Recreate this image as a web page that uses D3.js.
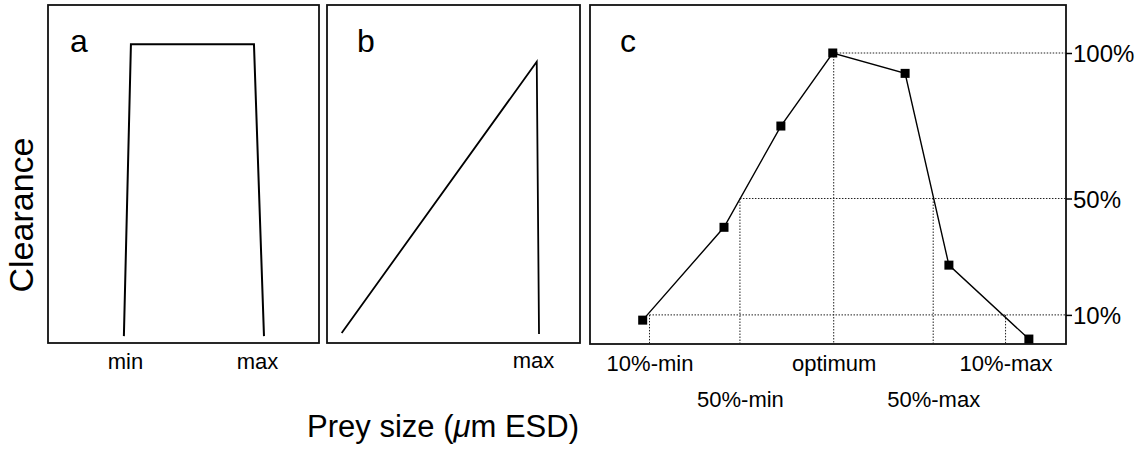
<!DOCTYPE html>
<html>
<head>
<meta charset="utf-8">
<script src="https://cdn.jsdelivr.net/npm/d3@7"></script>
<style>
  html, body { margin: 0; padding: 0; background: #fff; }
  svg { display: block; }
  text { font-family: "Liberation Sans", Arial, Helvetica, sans-serif; fill: #000; }
</style>
</head>
<body>
<svg id="chart" width="1143" height="450"></svg>
<script>
// ---------- data ----------
// panel a (window: min..max)
const aTickX = [28.4, 77.1];
const aTickLabels = ["min", "max"];
const aLineX = [28.0, 30.6, 76.0, 79.7];
const aLineY = [2.7, 103, 103, 2.7];

// panel b (linear up to max)
const bTickX = [81.4];
const bTickLabels = ["max"];
const bLineX = [5.8, 82.9, 83.8];
const bLineY = [3.8, 97, 3.4];

// panel c (measured curve)
const cPointX = [11.07, 28.15, 40.1, 51.0, 66.2, 75.4, 92.2];
const cPointY = [8.2, 40.1, 74.9, 100, 93, 27.1, 1.7];
const cTickLabels = ["10%-min", "50%-min", "optimum", "50%-max", "10%-max"];
const cTickX = [12.5, 31.5, 51.2, 72.1, 87.3];
const cTickLevel = [10, 50, 100, 50, 10];
const yTickValues = [10, 50, 100];

// ---------- layout ----------
const svg = d3.select("#chart");
const yScale = d3.scaleLinear().domain([0, 100]).range([344, 53]);
const boxTop = 5;

const panels = [
  { x0: 48, x1: 319, bottom: 343, letter: "a", lx: 70 },
  { x0: 327, x1: 580, bottom: 343, letter: "b", lx: 357 },
  { x0: 590, x1: 1066, bottom: 344, letter: "c", lx: 620 }
];
panels.forEach(p => { p.x = d3.scaleLinear().domain([0, 100]).range([p.x0, p.x1]); });

const line = (xs, ys, xsc) => d3.line()(xs.map((v, i) => [xsc(v), yScale(ys[i])]));

// frames and letters
panels.forEach(p => {
  svg.append("rect")
    .attr("x", p.x0).attr("y", boxTop)
    .attr("width", p.x1 - p.x0).attr("height", p.bottom - boxTop)
    .attr("fill", "none").attr("stroke", "#111").attr("stroke-width", 1.8);
  svg.append("text").attr("x", p.lx).attr("y", 52)
    .attr("font-size", 32).text(p.letter);
});

// ---------- panel a ----------
const pa = panels[0];
svg.append("path").attr("d", line(aLineX, aLineY, pa.x))
  .attr("fill", "none").attr("stroke", "#000").attr("stroke-width", 2);
const axA = svg.append("g").attr("transform", `translate(0,${pa.bottom})`)
  .call(d3.axisBottom(pa.x).tickValues(aTickX).tickSize(0)
    .tickFormat((d, i) => aTickLabels[i]));
axA.select(".domain").remove();
axA.selectAll("text").attr("font-size", 22).attr("dy", null).attr("y", 26);

// ---------- panel b ----------
const pb = panels[1];
svg.append("path").attr("d", line(bLineX, bLineY, pb.x))
  .attr("fill", "none").attr("stroke", "#000").attr("stroke-width", 1.8);
const axB = svg.append("g").attr("transform", `translate(0,${pb.bottom})`)
  .call(d3.axisBottom(pb.x).tickValues(bTickX).tickSize(0)
    .tickFormat((d, i) => bTickLabels[i]));
axB.select(".domain").remove();
axB.selectAll("text").attr("font-size", 22).attr("dy", null).attr("y", 25);

// ---------- panel c ----------
const pc = panels[2];
const grid = svg.append("g").attr("stroke", "#222").attr("stroke-width", 1)
  .attr("stroke-dasharray", "1.5,1.5").attr("fill", "none");
// horizontal guides from the crossing (left-most tick of each level) to the right edge
yTickValues.forEach(level => {
  const idx = cTickLevel.indexOf(level);
  grid.append("line")
    .attr("x1", pc.x(cTickX[idx])).attr("x2", pc.x1)
    .attr("y1", yScale(level)).attr("y2", yScale(level));
});
// vertical guides from the level down to the axis
cTickX.forEach((v, i) => {
  grid.append("line")
    .attr("x1", pc.x(v)).attr("x2", pc.x(v))
    .attr("y1", yScale(cTickLevel[i])).attr("y2", pc.bottom);
});

svg.append("path").attr("d", line(cPointX, cPointY, pc.x))
  .attr("fill", "none").attr("stroke", "#000").attr("stroke-width", 1.4);
svg.append("g").selectAll("rect").data(cPointX).join("rect")
  .attr("x", (d) => pc.x(d) - 4.5)
  .attr("y", (d, i) => yScale(cPointY[i]) - 4.5)
  .attr("width", 9).attr("height", 9).attr("fill", "#000");

const axC = svg.append("g").attr("transform", `translate(0,${pc.bottom})`)
  .call(d3.axisBottom(pc.x).tickValues(cTickX).tickSize(0)
    .tickFormat((d, i) => cTickLabels[i]));
axC.select(".domain").remove();
axC.selectAll("text").attr("font-size", 22).attr("dy", null)
  .attr("y", (d, i) => (i % 2 === 0 ? 27 : 63));

const axR = svg.append("g").attr("transform", `translate(${pc.x1},0)`)
  .call(d3.axisRight(yScale).tickValues(yTickValues).tickSize(6).tickPadding(1)
    .tickFormat(d => d + "%"));
axR.select(".domain").remove();
axR.selectAll("line").attr("stroke", "#000").attr("stroke-width", 1.5);
axR.selectAll("text").attr("font-size", 24).attr("dy", "0.36em");

// ---------- axis titles ----------
svg.append("text")
  .attr("transform", "translate(33,215) rotate(-90)")
  .attr("text-anchor", "middle").attr("font-size", 34).text("Clearance");

const xt = svg.append("text").attr("x", 443).attr("y", 437)
  .attr("text-anchor", "middle").attr("font-size", 31);
xt.append("tspan").text("Prey size (");
xt.append("tspan").attr("font-style", "italic").text("μ");
xt.append("tspan").text("m ESD)");
</script>
</body>
</html>
